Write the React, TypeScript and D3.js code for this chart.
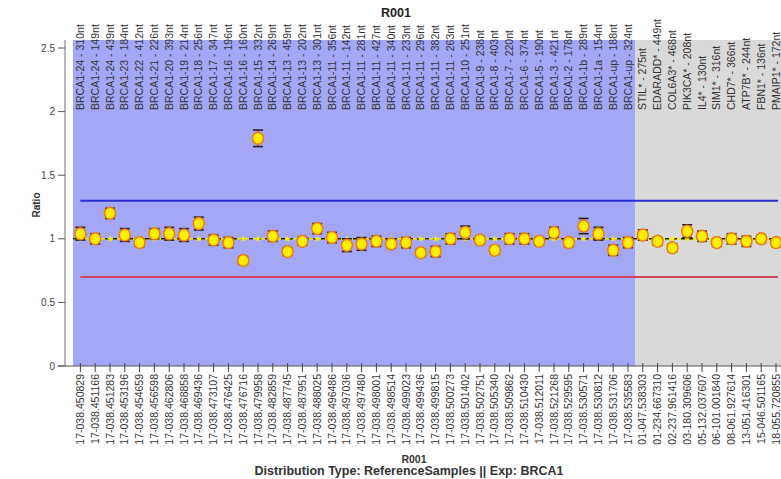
import React from "react";
import * as d3 from "d3";

const topLabels = [
  "BRCA1-24 - 310nt","BRCA1-24 - 149nt","BRCA1-24 - 439nt","BRCA1-23 - 184nt","BRCA1-22 - 412nt",
  "BRCA1-21 - 226nt","BRCA1-20 - 393nt","BRCA1-19 - 214nt","BRCA1-18 - 256nt","BRCA1-17 - 347nt",
  "BRCA1-16 - 196nt","BRCA1-16 - 160nt","BRCA1-15 - 332nt","BRCA1-14 - 269nt","BRCA1-13 - 459nt",
  "BRCA1-13 - 202nt","BRCA1-13 - 301nt","BRCA1-11 - 356nt","BRCA1-11 - 142nt","BRCA1-11 - 281nt",
  "BRCA1-11 - 427nt","BRCA1-11 - 340nt","BRCA1-11 - 233nt","BRCA1-11 - 296nt","BRCA1-11 - 382nt",
  "BRCA1-11 - 263nt","BRCA1-10 - 251nt","BRCA1-9 - 238nt","BRCA1-8 - 403nt","BRCA1-7 - 220nt",
  "BRCA1-6 - 374nt","BRCA1-5 - 190nt","BRCA1-3 - 421nt","BRCA1-2 - 178nt","BRCA1-1b - 289nt",
  "BRCA1-1a - 154nt","BRCA1-up - 188nt","BRCA1-up - 324nt",
  "STIL* - 275nt","EDARADD* - 449nt","COL6A3* - 468nt","PIK3CA* - 208nt","IL4* - 130nt",
  "SIM1* - 316nt","CHD7* - 366nt","ATP7B* - 244nt","FBN1* - 136nt","PMAIP1* - 172nt",
];

const bottomLabels = [
  "17-038.450829","17-038.451166","17-038.451283","17-038.453196","17-038.454659",
  "17-038.456598","17-038.462806","17-038.468858","17-038.469436","17-038.473107",
  "17-038.476425","17-038.476716","17-038.479958","17-038.482859","17-038.487745",
  "17-038.487951","17-038.488025","17-038.496486","17-038.497036","17-038.497480",
  "17-038.498001","17-038.498514","17-038.499023","17-038.499436","17-038.499815",
  "17-038.500273","17-038.501402","17-038.502751","17-038.505340","17-038.509862",
  "17-038.510430","17-038.512011","17-038.521268","17-038.529595","17-038.530571",
  "17-038.530812","17-038.531706","17-038.535583",
  "01-047.538303","01-234.667310","02-237.961416","03-180.309606","05-132.037607",
  "06-101.001840","08-061.927614","13-051.416301","15-046.501165","18-055.720855",
];

const ratios = [
  1.04, 1.00, 1.20, 1.03, 0.97, 1.04, 1.04, 1.03, 1.12, 0.99,
  0.97, 0.83, 1.79, 1.02, 0.90, 0.98, 1.08, 1.01, 0.95, 0.96,
  0.98, 0.96, 0.97, 0.89, 0.90, 1.00, 1.05, 0.99, 0.91, 1.00,
  1.00, 0.98, 1.05, 0.97, 1.10, 1.04, 0.91, 0.97,
  1.03, 0.98, 0.93, 1.06, 1.02, 0.97, 1.00, 0.98, 1.00, 0.97,
];

const errors = [
  0.05, 0.04, 0.04, 0.05, 0.03, 0.04, 0.05, 0.05, 0.05, 0.04,
  0.04, 0.03, 0.065, 0.04, 0.03, 0.03, 0.04, 0.04, 0.05, 0.05,
  0.04, 0.03, 0.04, 0.03, 0.04, 0.04, 0.05, 0.03, 0.03, 0.04,
  0.04, 0.03, 0.04, 0.03, 0.06, 0.05, 0.04, 0.04,
  0.04, 0.03, 0.03, 0.05, 0.04, 0.03, 0.04, 0.04, 0.03, 0.03,
];

const yTicks = [0, 0.5, 1, 1.5, 2, 2.5];
const refCount = 38;
const upperLimit = 1.3;
const lowerLimit = 0.7;

const W = 781;
const H = 479;
const plotLeft = 73;
const plotTop = 40;
const plotBottom = 366;
const band = 14.8;

export default function App() {
  const x = d3
    .scaleBand<number>()
    .domain(d3.range(ratios.length))
    .range([plotLeft, plotLeft + band * ratios.length])
    .padding(0);
  const y = d3.scaleLinear().domain([0, 2.5]).range([plotBottom, 48]);
  const cx = (i: number) => (x(i) as number) + x.bandwidth() / 2;
  const plotRight = plotLeft + band * ratios.length;
  const font = "'Liberation Sans', Arial, sans-serif";
  const star = d3.symbol().type(d3.symbolStar).size(14)() as string;

  return (
    <svg
      width={W}
      height={H}
      style={{ position: "absolute", left: 0, top: 0, background: "#ffffff" }}
      fontFamily={font}
    >
      <rect x={0} y={0} width={W} height={H} fill="#ffffff" />
      <rect
        x={plotLeft}
        y={plotTop}
        width={(x(refCount) as number) - plotLeft}
        height={plotBottom - plotTop}
        fill="#a4a6f6"
      />
      <rect
        x={x(refCount) as number}
        y={plotTop}
        width={plotRight - (x(refCount) as number)}
        height={plotBottom - plotTop}
        fill="#d9d9d9"
      />

      <line x1={cx(0)} x2={W - 3} y1={y(upperLimit)} y2={y(upperLimit)} stroke="#2b2fcf" strokeWidth={2} />
      <line x1={cx(0)} x2={W - 3} y1={y(lowerLimit)} y2={y(lowerLimit)} stroke="#d0445e" strokeWidth={2} />

      <line x1={plotLeft} x2={plotRight} y1={y(1)} y2={y(1)} stroke="#f2e600" strokeWidth={1.5} />
      <line x1={plotLeft} x2={plotRight} y1={y(1)} y2={y(1)} stroke="#222" strokeWidth={1.5} strokeDasharray="4,4" />
      {ratios.map((_, i) => (
        <path key={"s" + i} d={star} transform={`translate(${cx(i)},${y(1)})`} fill="#fff200" />
      ))}

      <line x1={65} x2={65} y1={plotTop} y2={plotBottom} stroke="#888" strokeWidth={1.2} />
      {yTicks.map((t) => (
        <g key={"yt" + t}>
          <line x1={58} x2={65} y1={y(t)} y2={y(t)} stroke="#555" strokeWidth={1} />
          <text x={55} y={y(t)} dy="0.35em" textAnchor="end" fontSize={10} fill="#444">
            {t}
          </text>
        </g>
      ))}
      <text
        transform={`translate(${40},${205}) rotate(-90)`}
        textAnchor="middle"
        fontSize={10}
        fontWeight="bold"
        fill="#333"
      >
        Ratio
      </text>

      <line x1={58} x2={W} y1={plotBottom} y2={plotBottom} stroke="#555" strokeWidth={1.2} />
      {ratios.map((_, i) => (
        <line key={"xt" + i} x1={cx(i)} x2={cx(i)} y1={plotBottom - 3} y2={plotBottom + 6} stroke="#444" strokeWidth={1} />
      ))}
      {bottomLabels.map((l, i) => (
        <text
          key={"bl" + i}
          transform={`translate(${cx(i) + 3.5},${plotBottom + 8}) rotate(-90)`}
          textAnchor="end"
          fontSize={10.5}
          fill="#333"
        >
          {l}
        </text>
      ))}

      {topLabels.map((l, i) => (
        <text
          key={"tl" + i}
          transform={`translate(${cx(i) + 3.5},${110}) rotate(-90)`}
          textAnchor="start"
          fontSize={10.5}
          fill="#333"
        >
          {l}
        </text>
      ))}

      {ratios.map((v, i) => {
        const e = errors[i];
        const c = cx(i);
        return (
          <g key={"p" + i}>
            <line x1={c} x2={c} y1={y(v + e)} y2={y(v - e)} stroke="#d04040" strokeWidth={1.2} />
            <line x1={c - 5} x2={c + 5} y1={y(v + e)} y2={y(v + e)} stroke="#222" strokeWidth={1.6} />
            <line x1={c - 5} x2={c + 5} y1={y(v - e)} y2={y(v - e)} stroke="#222" strokeWidth={1.6} />
            <ellipse cx={c} cy={y(v)} rx={5.5} ry={6} fill="#ffee00" stroke="#f07a10" strokeWidth={1.5} />
          </g>
        );
      })}

      <text x={396} y={17} textAnchor="middle" fontSize={12.5} fontWeight="bold" fill="#222">
        R001
      </text>
      <text x={414} y={463} textAnchor="middle" fontSize={10.5} fontWeight="bold" fill="#333">
        R001
      </text>
      <text x={409} y={475} textAnchor="middle" fontSize={12.5} fontWeight="bold" fill="#333">
        Distribution Type: ReferenceSamples || Exp: BRCA1
      </text>
    </svg>
  );
}
